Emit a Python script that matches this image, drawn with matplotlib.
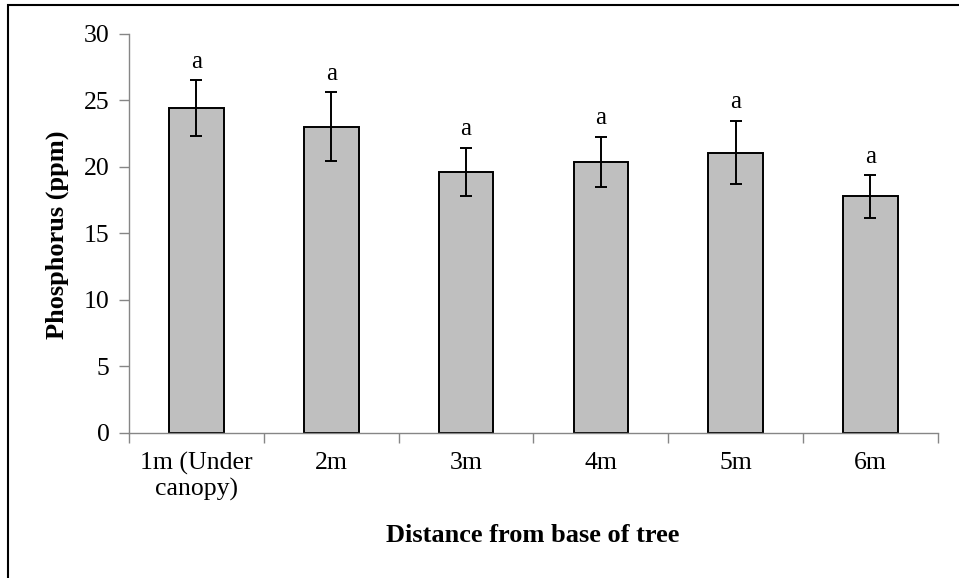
import numpy as np
import matplotlib.pyplot as plt
from matplotlib.patches import Rectangle

plt.rcParams['font.family'] = ['Liberation Serif', 'DejaVu Serif']

# ---- data ----
categories = ["1m (Under\ncanopy)", "2m", "3m", "4m", "5m", "6m"]
phosphorus = [24.4, 23.0, 19.6, 20.35, 21.05, 17.75]
errors = [2.1, 2.6, 1.8, 1.9, 2.4, 1.6]
letters = ["a", "a", "a", "a", "a", "a"]

fig = plt.figure(figsize=(9.59, 5.78), dpi=100)
ax = fig.add_axes([0.1345, 0.2517, 0.8435, 0.6903])

x = np.arange(len(categories))
ax.bar(x, phosphorus, width=0.405, color='#bfbfbf', edgecolor='black',
       linewidth=1.4, zorder=2)
ax.errorbar(x, phosphorus, yerr=errors, fmt='none', ecolor='black',
            elinewidth=1.4, capsize=4.5, capthick=1.4, zorder=3)

# letters over the error bars
for xi, v, e, t in zip(x, phosphorus, errors, letters):
    ax.annotate(t, (xi, v + e), xytext=(0, 9), textcoords='offset points',
                ha='center', va='baseline', fontsize=18)

ax.set_xlim(-0.5, len(categories) - 0.5)
ax.set_ylim(0, 30)
ax.set_yticks(np.arange(0, 31, 5))
ax.set_xticks(np.arange(-0.5, len(categories), 1.0))
ax.set_xticklabels([])
ax.set_xticks(x, minor=True)
ax.set_xticklabels(categories, minor=True, fontsize=18.5, linespacing=1.15)
ax.tick_params(axis='x', which='minor', length=0, pad=14)
ax.tick_params(axis='x', which='major', length=7, width=1, color='#868686',
               direction='out')
ax.tick_params(axis='y', length=7, width=1, color='#868686', labelsize=18.5,
               pad=7)

for side in ['top', 'right']:
    ax.spines[side].set_visible(False)
for side in ['left', 'bottom']:
    ax.spines[side].set_color('#868686')
    ax.spines[side].set_linewidth(1)

fig.text(57 / 959, 1 - 235 / 578, "Phosphorus (ppm)", fontsize=19,
         fontweight='bold', rotation=90, ha='center', va='center')
fig.text(533 / 959, 1 - 536 / 578, "Distance from base of tree", fontsize=19,
         fontweight='bold', ha='center', va='center')

# outer frame
fig.patches.append(Rectangle((8 / 959, -0.05), 1.05, 1 - 5 / 578 + 0.05,
                             transform=fig.transFigure, fill=False,
                             edgecolor='black', linewidth=1.5))

fig.savefig("out.png", dpi=100)
